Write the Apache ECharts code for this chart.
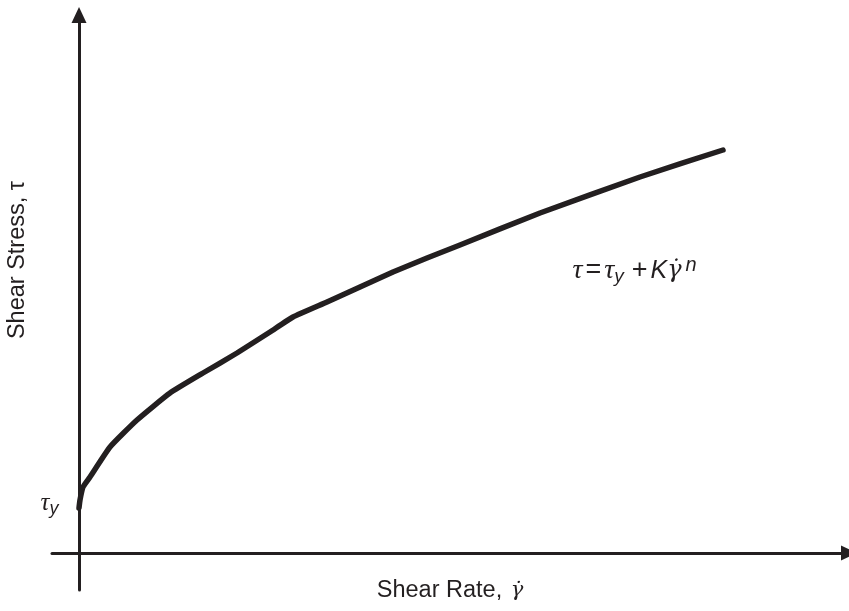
<!DOCTYPE html>
<html>
<head>
<meta charset="utf-8">
<script src="https://cdn.jsdelivr.net/npm/echarts@6/dist/echarts.min.js"></script>
<style>html,body{margin:0;padding:0;background:#fff}#c{width:849px;height:611px}</style>
</head>
<body>
<div id="c"></div>
<script>
// Shear rate (arbitrary units) and shear stress (arbitrary units)
const shearRate   = [0, 0.02, 0.08, 0.22, 0.62, 1.16, 1.82, 2.48, 3.16, 3.82, 4.28, 4.96, 5.62, 6.28, 6.96, 7.62, 9.22, 11.22, 12.88];
const shearStress = [0.9, 1.06, 1.32, 1.52, 2.12, 2.66, 3.2, 3.6, 4.0, 4.42, 4.72, 5.02, 5.32, 5.62, 5.9, 6.16, 6.8, 7.52, 8.06];
const tauY = 0.9;
const eqPos = [9.86, 5.64];
const xName = '{a|Shear Rate, }{g|\u03B3\u0307}';
const yName = 'Shear Stress, \u03C4';

const ink = '#231f20';
const chart = echarts.init(document.getElementById('c'), null, {renderer: 'canvas'});
const data = shearRate.map((x, i) => [x, shearStress[i]]);

chart.setOption({
  animation: false,
  backgroundColor: '#ffffff',
  grid: {left: 52, right: 0, top: 15, bottom: 21, containLabel: false, outerBoundsMode: 'none'},
  xAxis: {
    type: 'value', min: -0.54, max: 15.4,
    axisLine: {onZero: true, symbol: ['none', 'triangle'], symbolSize: [15, 16], lineStyle: {color: ink, width: 3}},
    axisTick: {show: false}, axisLabel: {show: false}, splitLine: {show: false}
  },
  yAxis: {
    type: 'value', min: -0.74, max: 10.76,
    axisLine: {onZero: true, symbol: ['none', 'triangle'], symbolSize: [15, 16], lineStyle: {color: ink, width: 3}},
    axisTick: {show: false}, axisLabel: {show: false}, splitLine: {show: false}
  },
  graphic: [{
    type: 'text', rotation: Math.PI / 2,
    x: 18, y: 260,
    style: {text: yName, fontFamily: 'Liberation Sans', fontSize: 23.5, fill: ink, align: 'center', verticalAlign: 'middle'}
  }, {
    type: 'text', x: 450, y: 591,
    style: {text: xName, align: 'center', verticalAlign: 'middle', fill: ink,
      rich: {
        a: {fontFamily: 'Liberation Sans', fontSize: 23.5, fill: ink},
        g: {fontFamily: 'DejaVu Serif', fontStyle: 'italic', fontSize: 21, fill: ink, padding: [0, 0, 0, 2]}
      }}
  }],
  series: [{
    type: 'line', data: data, smooth: 0.15, symbol: 'none',
    lineStyle: {color: ink, width: 5.5, cap: 'round', join: 'round'},
    markPoint: {
      symbol: 'circle', symbolSize: 1, itemStyle: {color: 'rgba(0,0,0,0)'},
      data: [
        {coord: [0, tauY], label: {show: true, position: 'left', distance: 20, offset: [0, -5],
          formatter: '{t|\u03C4}{s|y}',
          rich: {t: {fontFamily: 'Liberation Serif', fontStyle: 'italic', fontSize: 25, color: ink},
                 s: {fontFamily: 'Liberation Sans', fontStyle: 'italic', fontSize: 18, color: ink, padding: [12, 0, 0, 0]}}}},
        {coord: eqPos, label: {show: true, position: 'right', distance: 0,
          formatter: '{t|\u03C4}{o|=}{t|\u03C4}{s|y}{o|+}{k|K}{g|\u03B3\u0307}{p|n}',
          rich: {t: {fontFamily: 'Liberation Serif', fontStyle: 'italic', fontSize: 28, color: ink},
                 o: {fontFamily: 'Liberation Sans', fontSize: 27, color: ink, padding: [0, 3, 0, 3]},
                 k: {fontFamily: 'Liberation Sans', fontStyle: 'italic', fontSize: 25, color: ink},
                 g: {fontFamily: 'DejaVu Serif', fontStyle: 'italic', fontSize: 24, color: ink},
                 s: {fontFamily: 'Liberation Sans', fontStyle: 'italic', fontSize: 19, color: ink, padding: [12, 5, 0, 0]},
                 p: {fontFamily: 'Liberation Sans', fontStyle: 'italic', fontSize: 20, color: ink, padding: [0, 0, 12, 4]}}}}
      ]
    }
  }]
});
</script>
</body>
</html>
